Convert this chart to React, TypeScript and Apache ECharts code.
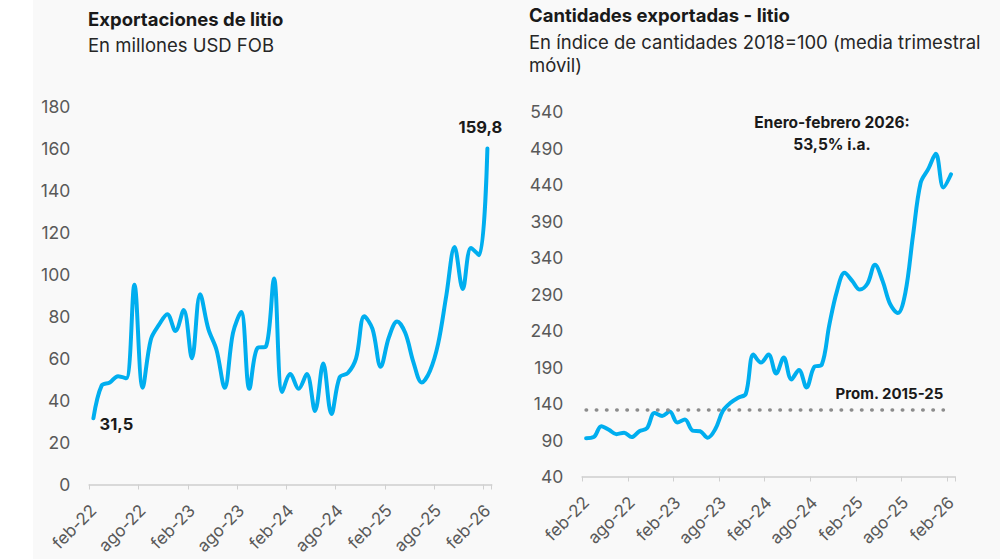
import React, { useEffect, useRef } from "react";
import * as echarts from "echarts";

const categories = [
  "feb-22","mar-22","abr-22","may-22","jun-22","jul-22","ago-22","sep-22","oct-22","nov-22","dic-22",
  "ene-23","feb-23","mar-23","abr-23","may-23","jun-23","jul-23","ago-23","sep-23","oct-23","nov-23","dic-23",
  "ene-24","feb-24","mar-24","abr-24","may-24","jun-24","jul-24","ago-24","sep-24","oct-24","nov-24","dic-24",
  "ene-25","feb-25","mar-25","abr-25","may-25","jun-25","jul-25","ago-25","sep-25","oct-25","nov-25","dic-25",
  "ene-26","feb-26",
];

// Exportaciones de litio (millones USD FOB)
const exportValues = [
  31.5, 47, 48.5, 51.5, 50.5, 95, 46, 69, 76, 81, 73,
  83, 60, 90.5, 74, 64, 46, 72, 82, 45.5, 65, 65.5, 98,
  44, 52.5, 45.5, 52.5, 35, 57.5, 33.5, 51, 53, 60, 80, 74,
  56, 70, 77.5, 72, 58, 48.5, 54, 67, 90, 113, 93, 112.5,
  109, 159.8,
];

// Cantidades exportadas (índice 2018=100, media trimestral móvil)
const quantityIndex = [
  92.5, 94, 109, 104, 98, 100, 94, 102, 106, 127, 123,
  129, 114, 118, 103, 102, 93, 105, 130, 141, 148, 153, 207,
  196, 207, 181, 203, 173, 186, 162, 190, 193, 248, 294, 319,
  308, 296, 304, 330, 308, 276, 264, 292, 370, 442, 461, 482,
  436, 454,
];

const promedio2015_25 = 132;

const leftTicks = { min: 0, max: 180, interval: 20 };
const rightTicks = { min: 40, max: 540, interval: 50 };

const FONT = "Inter, 'Noto Sans', sans-serif";
const BLUE = "#00AEEF";
const AXIS_TEXT = "#595959";
const DARK = "#1a1a1a";

const fmt = (v: number) => v.toFixed(1).replace(".", ",");

export default function App() {
  const ref = useRef<HTMLDivElement>(null);

  useEffect(() => {
    document.body.style.margin = "0";
    if (!ref.current) return;
    const chart = echarts.init(ref.current, undefined, { renderer: "svg" });

    const xAxisCommon = {
      type: "category" as const,
      data: categories,
      boundaryGap: true,
      axisLine: { show: true, lineStyle: { color: "#d9d9d9", width: 2 } },
      axisTick: { show: true, interval: 5, length: 5, lineStyle: { color: "#d0d0d0", width: 1 } },
      axisLabel: {
        interval: 5,
        rotate: 45,
        fontSize: 17,
        color: AXIS_TEXT,
        fontFamily: FONT,
        margin: 23,
      },
      splitLine: { show: false },
    };

    const yAxisCommon = {
      type: "value" as const,
      axisLine: { show: false },
      axisTick: { show: false },
      splitLine: { show: false },
      axisLabel: { fontSize: 17.5, color: AXIS_TEXT, fontFamily: FONT, margin: 19 },
    };

    const pointLabel = (position: string, offset: number[]) => ({
      show: true,
      position,
      offset,
      formatter: (p: any) => fmt(typeof p.value === "number" ? p.value : Number(p.value)),
      fontWeight: "bold",
      fontSize: 16.5,
      color: DARK,
      fontFamily: FONT,
    });

    const leftData = exportValues.map((v, i) => {
      if (i === 0) return { value: v, label: pointLabel("bottom", [23, -8]) };
      if (i === exportValues.length - 1) return { value: v, label: pointLabel("top", [-7, -7]) };
      return v;
    });

    chart.setOption({
      animation: false,
      backgroundColor: "transparent",
      textStyle: { fontFamily: FONT },
      title: [
        {
          text: "Exportaciones de litio",
          left: 88,
          top: 9,
          padding: 0,
          textStyle: { fontSize: 18.5, fontWeight: "bold", color: DARK, fontFamily: FONT },
        },
        {
          text: "En millones USD FOB",
          left: 88,
          top: 35.5,
          padding: 0,
          textStyle: { fontSize: 18.5, fontWeight: "normal", color: "#262626", fontFamily: FONT },
        },
        {
          text: "Cantidades exportadas - litio",
          left: 529,
          top: 5,
          padding: 0,
          textStyle: { fontSize: 18.5, fontWeight: "bold", color: DARK, fontFamily: FONT },
        },
        {
          text: "En índice de cantidades 2018=100 (media trimestral\nmóvil)",
          left: 529,
          top: 30.5,
          padding: 0,
          textStyle: {
            fontSize: 18.5,
            fontWeight: "normal",
            color: "#262626",
            fontFamily: FONT,
            lineHeight: 23,
          },
        },
      ],
      graphic: [
        {
          type: "text",
          x: 832,
          y: 122,
          style: {
            text: "Enero-febrero 2026:",
            fontSize: 15.5,
            fontWeight: "bold",
            fill: DARK,
            fontFamily: FONT,
            align: "center",
            verticalAlign: "middle",
          },
        },
        {
          type: "text",
          x: 832,
          y: 144,
          style: {
            text: "53,5% i.a.",
            fontSize: 15.5,
            fontWeight: "bold",
            fill: DARK,
            fontFamily: FONT,
            align: "center",
            verticalAlign: "middle",
          },
        },
      ],
      grid: [
        { left: 89.3, top: 106, width: 402.2, height: 378.5, containLabel: false, outerBoundsMode: "none" },
        { left: 582.3, top: 111.5, width: 372.5, height: 365, containLabel: false, outerBoundsMode: "none" },
      ],
      xAxis: [
        { ...xAxisCommon, gridIndex: 0 },
        { ...xAxisCommon, gridIndex: 1 },
      ],
      yAxis: [
        { ...yAxisCommon, gridIndex: 0, ...leftTicks },
        { ...yAxisCommon, gridIndex: 1, ...rightTicks },
      ],
      series: [
        {
          name: "Exportaciones de litio",
          type: "line",
          xAxisIndex: 0,
          yAxisIndex: 0,
          data: leftData,
          smooth: 0.35,
          showSymbol: true,
          showAllSymbol: true,
          symbol: "circle",
          symbolSize: 1,
          lineStyle: { color: BLUE, width: 4, cap: "round", join: "round" },
          itemStyle: { color: "rgba(0,0,0,0)" },
          emphasis: { disabled: true },
        },
        {
          name: "Cantidades exportadas",
          type: "line",
          xAxisIndex: 1,
          yAxisIndex: 1,
          data: quantityIndex,
          smooth: 0.35,
          showSymbol: false,
          symbol: "none",
          lineStyle: { color: BLUE, width: 4, cap: "round", join: "round" },
          itemStyle: { color: BLUE },
          markLine: {
            silent: true,
            symbol: ["none", "none"],
            animation: false,
            lineStyle: { color: "#8c8c8c", width: 3.5, type: [0.5, 9.7], cap: "round" },
            label: {
              show: true,
              position: "insideEndTop",
              formatter: "Prom. 2015-25",
              fontSize: 15,
              fontWeight: "bold",
              color: DARK,
              fontFamily: FONT,
              distance: [0, 8],
            },
            data: [
              [
                { coord: [categories[0], promedio2015_25] },
                { coord: [categories[47], promedio2015_25] },
              ],
            ],
          },
        },
      ],
    });

    return () => chart.dispose();
  }, []);

  return (
    <div
      ref={ref}
      style={{
        width: 1000,
        height: 559,
        background: "linear-gradient(to right, #ffffff 33px, #f9f9f9 33px)",
      }}
    />
  );
}
